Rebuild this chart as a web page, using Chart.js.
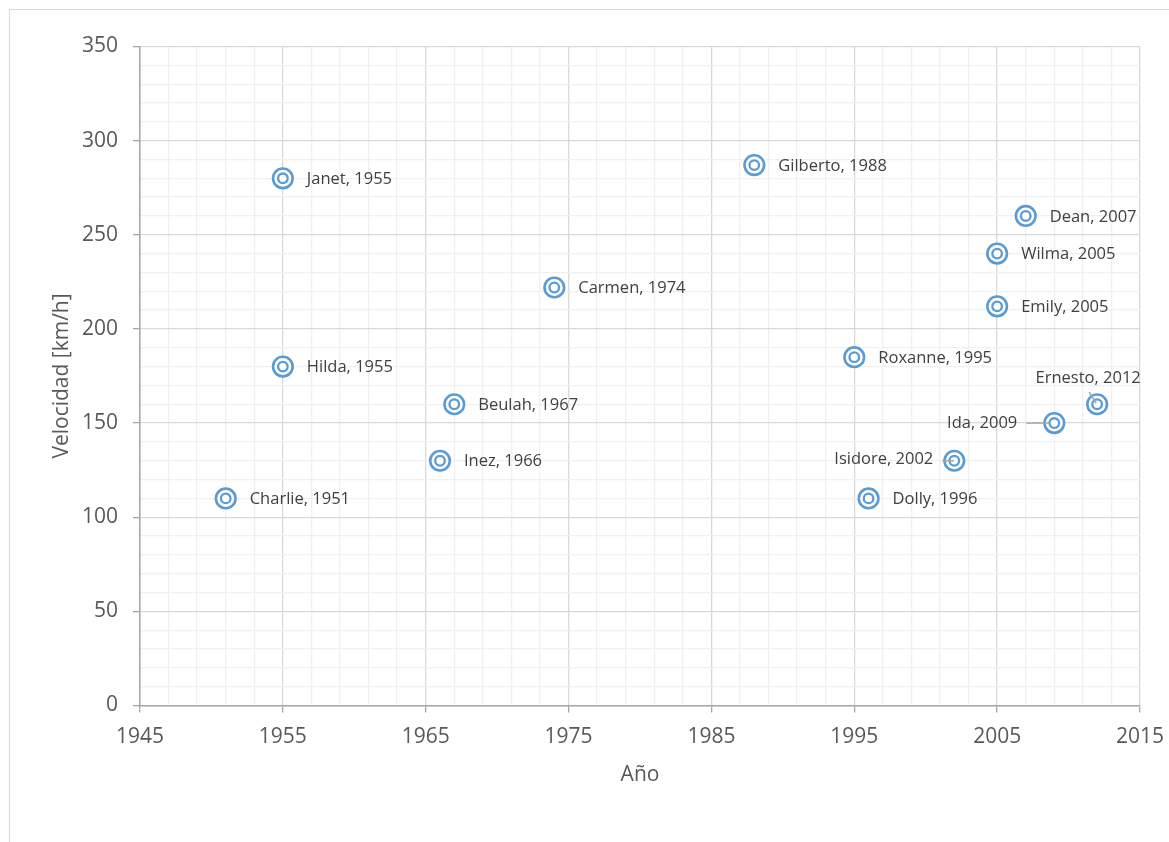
<!DOCTYPE html>
<html>
<head>
<meta charset="utf-8">
<script src="https://cdn.jsdelivr.net/npm/chart.js@4/dist/chart.umd.min.js"></script>
<style>
  html, body { margin: 0; padding: 0; background: #ffffff; }
  #wrap { position: relative; width: 1169px; height: 842px; overflow: hidden; }
  canvas { display: block; }
</style>
</head>
<body>
<div id="wrap"><canvas id="c" width="1169" height="842"></canvas></div>
<script>
// ---- data ----
const names  = ['Charlie','Janet','Hilda','Inez','Beulah','Carmen','Gilberto','Roxanne','Dolly','Isidore','Emily','Wilma','Dean','Ida','Ernesto'];
const years  = [1951, 1955, 1955, 1966, 1967, 1974, 1988, 1995, 1996, 2002, 2005, 2005, 2007, 2009, 2012];
const speeds = [110, 280, 180, 130, 160, 222, 287, 185, 110, 130, 212, 240, 260, 150, 160];
const xTickLabels = ['1945','1955','1965','1975','1985','1995','2005','2015'];
const yTickLabels = ['0','50','100','150','200','250','300','350'];
const xTitle = 'Año';
const yTitle = 'Velocidad [km/h]';

// ---- label placement (layout only) ----
const labelPlacement = {
  Isidore: { dx: -21, dy: -1, align: 'right', leader: [-12, 0, 0, 0] },
  Ida:     { dx: -37, dy: 0,  align: 'right', leader: [-28, 0, -5, 0] },
  Ernesto: { dx: -9,  dy: -26, align: 'center', leader: [-8, -12, -1, -1] }
};

const points = years.map((y, i) => ({ x: y, y: speeds[i] }));
const xMin = Number(xTickLabels[0]), xMax = Number(xTickLabels[xTickLabels.length - 1]);
const yMin = Number(yTickLabels[0]), yMax = Number(yTickLabels[yTickLabels.length - 1]);
const xMajor = Number(xTickLabels[1]) - xMin;
const yMajor = Number(yTickLabels[1]) - yMin;

const TICK_FONT = { family: "'Open Sans', 'Noto Sans', sans-serif", size: 21 };
const TEXT = '#595959';
const BLUE = '#5b9bd5';

const isMajor = (v, base, step) => {
  const r = ((v - base) % step + step) % step;
  return r < 1e-6 || step - r < 1e-6;
};

const frame = {
  id: 'frame',
  beforeDraw(chart) {
    const ctx = chart.ctx;
    ctx.save();
    ctx.strokeStyle = '#d9d9d9';
    ctx.lineWidth = 1;
    ctx.strokeRect(9.5, 9.5, 1300, 1000);
    ctx.restore();
  }
};

const dataLabels = {
  id: 'dataLabels',
  afterDatasetsDraw(chart) {
    const ctx = chart.ctx;
    const meta = chart.getDatasetMeta(0);
    ctx.save();
    ctx.font = "16.5px 'Open Sans', 'Noto Sans', sans-serif";
    ctx.fillStyle = '#404040';
    ctx.textBaseline = 'middle';
    meta.data.forEach((el, i) => {
      const cx = el.x, cy = el.y;
      const p = labelPlacement[names[i]] || { dx: 24, dy: 1, align: 'left' };
      if (p.leader) {
        ctx.strokeStyle = '#a6a6a6';
        ctx.lineWidth = 1.5;
        ctx.beginPath();
        ctx.moveTo(cx + p.leader[0], cy + p.leader[1]);
        ctx.lineTo(cx + p.leader[2], cy + p.leader[3]);
        ctx.stroke();
      }
      ctx.textAlign = p.align;
      ctx.fillText(names[i] + ', ' + years[i], cx + p.dx, cy + p.dy);
    });
    ctx.restore();
  }
};

new Chart(document.getElementById('c'), {
  type: 'scatter',
  data: {
    datasets: [
      {
        // inner ring (drawn on top)
        data: points,
        order: 0,
        pointStyle: 'circle',
        pointRadius: 4.8,
        pointHoverRadius: 4.8,
        pointBorderWidth: 2.3,
        pointBorderColor: BLUE,
        pointBackgroundColor: '#ffffff'
      },
      {
        // outer ring
        data: points,
        order: 1,
        pointStyle: 'circle',
        pointRadius: 9.8,
        pointHoverRadius: 9.8,
        pointBorderWidth: 2.6,
        pointBorderColor: BLUE,
        pointBackgroundColor: '#ffffff'
      }
    ]
  },
  options: {
    responsive: false,
    devicePixelRatio: 1,
    animation: false,
    events: [],
    layout: { padding: { left: 0, top: 46.5, right: 29, bottom: 0 } },
    plugins: { legend: { display: false }, tooltip: { enabled: false } },
    scales: {
      x: {
        type: 'linear',
        min: xMin, max: xMax,
        afterFit(s) { s.height = 136.5; s.paddingLeft = 0; s.paddingRight = 0; },
        ticks: {
          stepSize: 2,
          autoSkip: false,
          maxRotation: 0,
          padding: 12,
          color: TEXT,
          font: TICK_FONT,
          callback: (v) => isMajor(v, xMin, xMajor) ? xTickLabels[Math.round((v - xMin) / xMajor)] : ''
        },
        grid: {
          color: (c) => isMajor(c.tick.value, xMin, xMajor) ? '#d9d9d9' : '#f0f0f0',
          tickColor: (c) => isMajor(c.tick.value, xMin, xMajor) ? '#a6a6a6' : 'rgba(0,0,0,0)',
          tickLength: 7,
          lineWidth: 1.3
        },
        border: { color: '#a6a6a6', width: 1.5 },
        title: { display: true, text: xTitle, color: TEXT, font: TICK_FONT, padding: { top: 0, bottom: 54 } }
      },
      y: {
        type: 'linear',
        min: yMin, max: yMax,
        afterFit(s) { s.width = 140; s.paddingTop = 0; s.paddingBottom = 0; },
        ticks: {
          stepSize: 10,
          autoSkip: false,
          padding: 15,
          color: TEXT,
          font: TICK_FONT,
          callback: (v) => isMajor(v, yMin, yMajor) ? yTickLabels[Math.round((v - yMin) / yMajor)] : ''
        },
        grid: {
          color: (c) => isMajor(c.tick.value, yMin, yMajor) ? '#d9d9d9' : '#f0f0f0',
          tickColor: (c) => isMajor(c.tick.value, yMin, yMajor) ? '#a6a6a6' : 'rgba(0,0,0,0)',
          tickLength: 7,
          lineWidth: 1.3
        },
        border: { color: '#a6a6a6', width: 1.5 },
        title: { display: true, text: yTitle, color: TEXT, font: TICK_FONT, padding: { top: 49, bottom: 0 } }
      }
    }
  },
  plugins: [frame, dataLabels]
});
</script>
</body>
</html>
